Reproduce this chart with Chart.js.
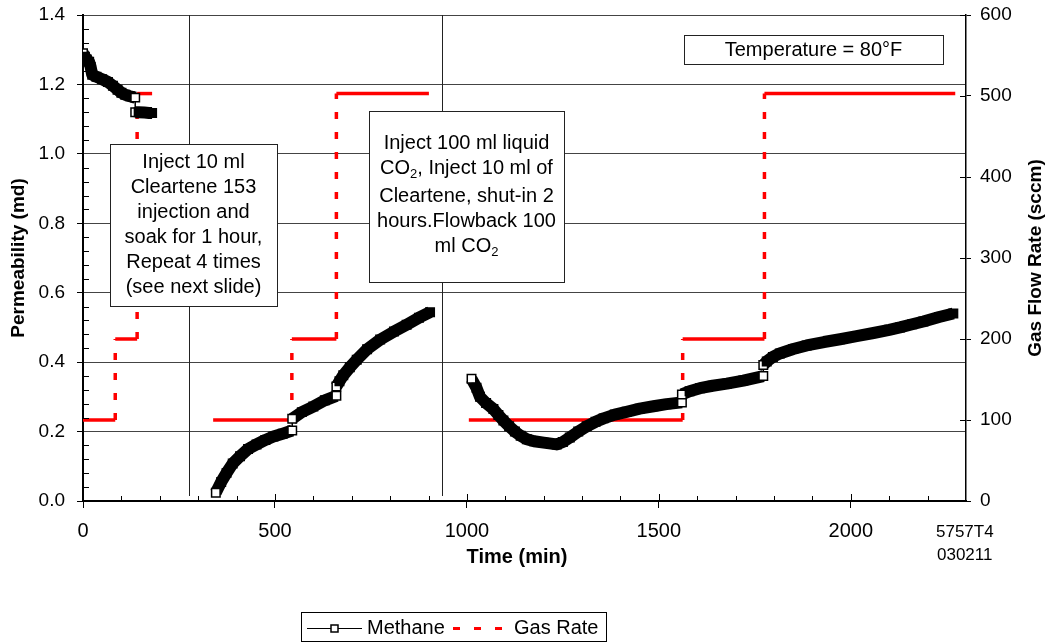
<!DOCTYPE html>
<html>
<head>
<meta charset="utf-8">
<script src="https://cdn.jsdelivr.net/npm/chart.js@4.4.1/dist/chart.umd.min.js"></script>
<style>
  html, body { margin: 0; padding: 0; background: #fff; }
  #wrap { width: 1047px; height: 643px; }
</style>
</head>
<body>
<div id="wrap"><canvas id="permChart" width="1047" height="643"></canvas></div>
<script>
// Methane permeability (md) against time (min); null splits the three runs
const methaneTime = [
  0, 5, 10, 16, 20, 24, 35, 50, 65, 78, 90, 100, 110, 122, 136, 136, 145, 160, 172, 180,
  null,
  346, 360, 374, 390, 409, 430, 452, 475, 496, 520, 545, 545, 570, 600, 630, 660, 660, 668,
  678, 695, 713, 740, 774, 810, 843, 875, 904,
  null,
  1012, 1025, 1034, 1050, 1069, 1082, 1095, 1110, 1125, 1140, 1156, 1175, 1200, 1234, 1250,
  1268, 1290, 1312, 1335, 1356, 1385, 1416, 1450, 1486, 1520, 1560, 1560, 1580, 1607, 1640,
  1677, 1720, 1772, 1772, 1781, 1797, 1815, 1850, 1885, 1930, 1972, 2015, 2059, 2100, 2128,
  2160, 2189, 2230, 2267
];
const methanePerm = [
  1.29, 1.28, 1.272, 1.265, 1.25, 1.228, 1.222, 1.215, 1.207, 1.196, 1.185, 1.176, 1.17, 1.166, 1.162, 1.12, 1.12, 1.119, 1.118, 1.118,
  null,
  0.024, 0.055, 0.081, 0.108, 0.129, 0.150, 0.163, 0.176, 0.186, 0.194, 0.203, 0.237, 0.256, 0.272, 0.290, 0.303, 0.330, 0.345,
  0.362, 0.385, 0.407, 0.437, 0.465, 0.488, 0.508, 0.528, 0.544,
  null,
  0.352, 0.326, 0.300, 0.282, 0.265, 0.248, 0.232, 0.215, 0.200, 0.188, 0.178, 0.172, 0.168, 0.163, 0.170,
  0.183, 0.200, 0.215, 0.228, 0.238, 0.249, 0.257, 0.266, 0.273, 0.279, 0.284, 0.307, 0.316, 0.325, 0.332,
  0.338, 0.347, 0.360, 0.392, 0.402, 0.415, 0.425, 0.438, 0.448, 0.458, 0.466, 0.475, 0.484, 0.493, 0.500,
  0.509, 0.517, 0.530, 0.540
];

// Gas flow rate (sccm), corners of the stepped set-point trace
const gasTime = [0, 84, 84, 141, 141, 180, null, 339, 544, 544, 660, 660, 901, null, 1005, 1562, 1562, 1775, 1775, 2272];
const gasRate = [100, 100, 200, 200, 503, 503, null, 100, 100, 200, 200, 503, 503, null, 100, 100, 200, 200, 503, 503];

const timeTicks = [0, 500, 1000, 1500, 2000];
const permTicks = [0, 0.2, 0.4, 0.6, 0.8, 1.0, 1.2, 1.4];
const rateTicks = [0, 100, 200, 300, 400, 500, 600];

// treatment breaks between the runs
const breakTimes = [276, 934];

const FAMILY = "'Liberation Sans', Arial, sans-serif";
Chart.defaults.font.family = FAMILY;
Chart.defaults.color = '#000';

const pairs = (xs, ys) => xs.map((x, i) => ({ x: x, y: ys[i] }));
const methaneData = pairs(methaneTime, methanePerm);
const gasData = pairs(gasTime, gasRate);

const sameX = ctx => ctx.p0.parsed.x === ctx.p1.parsed.x;

// open squares where a run starts or the permeability jumps
function markerFill(c) {
  const i = c.dataIndex;
  const t = methaneTime[i];
  const prev = methaneTime[i - 1], next = methaneTime[i + 1];
  if (prev === null || prev === undefined || prev === t || next === t) return '#fff';
  return '#000';
}

// keep the plot box fixed: no extra room for half tick labels
function fixVertical(width) {
  return s => { s.width = width; s.paddingTop = 0; s.paddingBottom = 0; };
}

function noteBox(ctx, l, t, r, b) {
  ctx.fillStyle = '#fff';
  ctx.fillRect(l, t, r - l, b - t);
  ctx.strokeStyle = '#222';
  ctx.lineWidth = 1;
  ctx.strokeRect(l + 0.5, t + 0.5, r - l, b - t);
}

// a line of text where array parts are drawn as subscripts
function richLine(ctx, parts, cx, cy) {
  const main = '20px ' + FAMILY, sub = '13px ' + FAMILY;
  const widths = parts.map(p => {
    ctx.font = Array.isArray(p) ? sub : main;
    return ctx.measureText(Array.isArray(p) ? p[0] : p).width;
  });
  let x = cx - widths.reduce((a, b) => a + b, 0) / 2;
  ctx.textAlign = 'left';
  ctx.textBaseline = 'middle';
  ctx.fillStyle = '#000';
  parts.forEach((p, i) => {
    const isSub = Array.isArray(p);
    ctx.font = isSub ? sub : main;
    ctx.fillText(isSub ? p[0] : p, x, isSub ? cy + 6 : cy);
    x += widths[i];
  });
}

const overlay = {
  id: 'overlay',
  beforeDatasetsDraw(chart) {
    const { ctx, chartArea: a, scales: { x } } = chart;
    ctx.save();
    ctx.strokeStyle = '#222';
    ctx.lineWidth = 1;
    breakTimes.forEach(t => {
      const px = Math.round(x.getPixelForValue(t)) + 0.5;
      ctx.beginPath();
      ctx.moveTo(px, a.top);
      ctx.lineTo(px, a.bottom - 5);
      ctx.stroke();
    });
    ctx.restore();
  },
  afterDatasetsDraw(chart) {
    const { ctx } = chart;
    ctx.save();

    noteBox(ctx, 110, 144, 277, 306);
    ['Inject 10 ml', 'Cleartene 153', 'injection and', 'soak for 1 hour,', 'Repeat 4 times', '(see next slide)']
      .forEach((s, i) => richLine(ctx, [s], 193.5, 162 + i * 25));

    noteBox(ctx, 369, 111, 564, 282);
    [
      ['Inject 100 ml liquid'],
      ['CO', ['2'], ', Inject 10 ml of'],
      ['Cleartene, shut-in 2'],
      ['hours.Flowback 100'],
      ['ml CO', ['2']]
    ].forEach((parts, i) => richLine(ctx, parts, 466.5, [143, 168, 196, 221, 246][i]));

    noteBox(ctx, 684, 35, 943, 64);
    richLine(ctx, ['Temperature = 80°F'], 813.5, 50);

    ctx.restore();
  },
  afterDraw(chart) {
    const { ctx, chartArea: a, scales: { x, y, y2 } } = chart;
    ctx.save();
    ctx.strokeStyle = '#000';
    ctx.lineWidth = 1;
    ctx.beginPath();
    // time: major ticks cross the axis, minor ticks point inward
    for (let t = 100; t < 2300; t += 100) {
      const px = Math.round(x.getPixelForValue(t)) + 0.5;
      ctx.moveTo(px, a.bottom);
      ctx.lineTo(px, a.bottom - (t % 500 === 0 ? 7 : 5));
    }
    // permeability minor ticks inside the left axis
    for (let k = 1; k < 35; k++) {
      if (k % 5 === 0) continue;
      const py = Math.round(y.getPixelForValue(k * 0.04)) + 0.5;
      ctx.moveTo(a.left, py);
      ctx.lineTo(a.left + 6, py);
    }
    // rate ticks cross the right axis
    rateTicks.forEach(v => {
      const py = Math.round(y2.getPixelForValue(v)) + 0.5;
      ctx.moveTo(a.right, py);
      ctx.lineTo(a.right - 6, py);
    });
    ctx.stroke();

    // axis titles drawn by hand: time is centred a little left, rate reads upward
    ctx.fillStyle = '#000';
    ctx.textAlign = 'center';
    ctx.textBaseline = 'middle';
    ctx.font = 'bold 20px ' + FAMILY;
    ctx.fillText('Time (min)', 517, 557);
    ctx.save();
    ctx.translate(1036, (a.top + a.bottom) / 2);
    ctx.rotate(-Math.PI / 2);
    ctx.font = 'bold 19px ' + FAMILY;
    ctx.fillText('Gas Flow Rate (sccm)', 0, 0);
    ctx.restore();

    // drawing number
    ctx.font = '17px ' + FAMILY;
    ctx.textAlign = 'left';
    ctx.fillText('5757T4', 936, 532);
    ctx.fillText('030211', 937, 555);

    // legend
    ctx.strokeStyle = '#000';
    ctx.lineWidth = 1;
    ctx.strokeRect(301.5, 612.5, 305, 29);
    ctx.beginPath();
    ctx.moveTo(307, 628.5);
    ctx.lineTo(362, 628.5);
    ctx.stroke();
    ctx.fillStyle = '#fff';
    ctx.fillRect(331, 625, 7, 7);
    ctx.lineWidth = 1.5;
    ctx.strokeRect(331, 625, 7, 7);
    ctx.fillStyle = '#000';
    ctx.font = '20px ' + FAMILY;
    ctx.fillText('Methane', 367, 628);
    ctx.strokeStyle = '#f00';
    ctx.lineWidth = 3;
    ctx.setLineDash([7, 14]);
    ctx.beginPath();
    ctx.moveTo(453, 628.5);
    ctx.lineTo(503, 628.5);
    ctx.stroke();
    ctx.setLineDash([]);
    ctx.fillText('Gas Rate', 514, 628);
    ctx.restore();
  }
};

new Chart(document.getElementById('permChart'), {
  type: 'line',
  data: {
    datasets: [
      {
        label: 'Methane',
        data: methaneData,
        yAxisID: 'y',
        borderColor: '#000',
        borderWidth: 12,
        borderJoinStyle: 'round',
        pointStyle: 'rect',
        pointRadius: 6,
        pointBorderWidth: 1.5,
        pointBorderColor: '#000',
        pointBackgroundColor: markerFill,
        spanGaps: false,
        segment: { borderWidth: c => sameX(c) ? 1.5 : undefined }
      },
      {
        label: 'Gas Rate',
        data: gasData,
        yAxisID: 'y2',
        borderColor: '#f00',
        borderWidth: 3.5,
        pointRadius: 0,
        spanGaps: false,
        segment: { borderDash: c => sameX(c) ? [7, 13] : undefined }
      }
    ]
  },
  options: {
    responsive: false,
    animation: false,
    devicePixelRatio: 1,
    layout: { padding: { top: 15, left: 0, right: 0, bottom: 0 } },
    plugins: { legend: { display: false }, tooltip: { enabled: false } },
    scales: {
      x: {
        type: 'linear',
        min: 0,
        max: 2300,
        afterBuildTicks: s => { s.ticks = timeTicks.map(v => ({ value: v })); },
        afterFit: s => { s.height = 142; s.paddingLeft = 0; s.paddingRight = 0; },
        ticks: { font: { size: 20 }, padding: 11, callback: v => String(v), maxRotation: 0 },
        grid: { drawOnChartArea: false, color: '#000', tickLength: 7 },
        border: { color: '#000', width: 2 }
      },
      y: {
        position: 'left',
        min: 0,
        max: 1.4,
        afterBuildTicks: s => { s.ticks = permTicks.map(v => ({ value: v })); },
        afterFit: fixVertical(83),
        ticks: { font: { size: 19 }, padding: 12, callback: v => v.toFixed(1) },
        grid: { color: '#444', tickColor: '#000', tickLength: 6 },
        border: { color: '#000', width: 2 },
        title: { display: true, text: 'Permeability (md)', font: { size: 19, weight: 'bold' }, padding: { top: 7, bottom: 0 } }
      },
      y2: {
        position: 'right',
        min: 0,
        max: 600,
        afterBuildTicks: s => { s.ticks = rateTicks.map(v => ({ value: v })); },
        afterFit: fixVertical(81),
        ticks: { font: { size: 19 }, padding: 9 },
        grid: { drawOnChartArea: false, color: '#000', tickLength: 5 },
        border: { color: '#000', width: 1.5 }
      }
    }
  },
  plugins: [overlay]
});
</script>
</body>
</html>
